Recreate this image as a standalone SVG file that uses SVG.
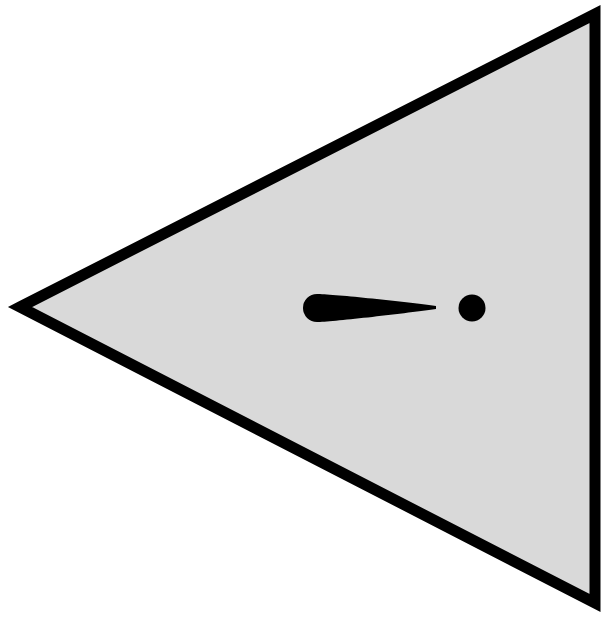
<svg xmlns="http://www.w3.org/2000/svg" width="601" height="618" viewBox="0 0 601 618">
<rect width="601" height="618" fill="#ffffff"/>
<g id="triangle">
<polygon points="20,307 595,14 595,603" fill="#d9d9d9" stroke="#000" stroke-width="11" stroke-linejoin="miter" stroke-miterlimit="10"/>
</g>
<g id="teardrop">
<path d="M317,294 C330,294 400,301 436,306 L436,309 C400,314 330,322 317,322 A14,14 0 0 1 317,294 Z" fill="#000"/>
</g>
<g id="dot">
<circle cx="472" cy="308" r="13.5" fill="#000"/>
</g>
</svg>
